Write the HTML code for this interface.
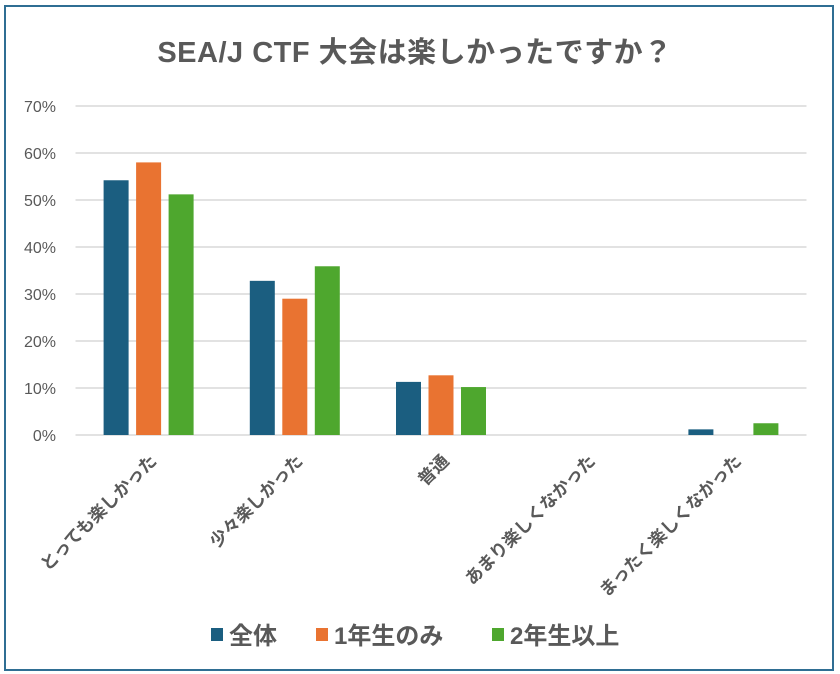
<!DOCTYPE html>
<html><head><meta charset="utf-8">
<style>
html,body{margin:0;padding:0;background:#fff;}
body{width:840px;height:674px;overflow:hidden;position:relative;font-family:"Liberation Sans","Noto Sans CJK JP",sans-serif;}
#frame{position:absolute;left:4px;top:5px;width:826px;height:662px;border:2px solid #2f6e93;}
svg text{font-family:"Liberation Sans","Noto Sans CJK JP",sans-serif;}
</style></head>
<body>
<div id="frame"></div>
<svg id="chart" width="840" height="674" style="position:absolute;left:0;top:0">
<text x="415" y="62" text-anchor="middle" font-size="29" font-weight="bold" fill="#595959" letter-spacing="0.5">SEA/J CTF 大会は楽しかったですか？</text>
<g id="grid"></g><g id="yticks"></g><g id="bars"></g><g id="xlabels"></g><g id="legend"></g>
</svg>
<script>
const categories=["とっても楽しかった","少々楽しかった","普通","あまり楽しくなかった","まったく楽しくなかった"];
const seriesNames=["全体","1年生のみ","2年生以上"];
const seriesAll=[54.2,32.8,11.3,0,1.2];
const seriesFirst=[58.0,29.0,12.7,0,0];
const seriesSecond=[51.2,35.9,10.2,0,2.5];
const yTicks=[0,10,20,30,40,50,60,70];
const colors=["#1b5e80","#e97331","#4ea72e"];
const NS="http://www.w3.org/2000/svg";
const L=75.5,R=806.5,Y0=435,Y70=106;
const y=v=>Y0-(v/70)*(Y0-Y70);
const bw=(R-L)/categories.length;
const x=i=>L+bw*i+bw/2;
function mk(tag,attrs,parent){const e=document.createElementNS(NS,tag);for(const k in attrs)e.setAttribute(k,attrs[k]);parent.appendChild(e);return e;}
const grid=document.getElementById('grid'),yt=document.getElementById('yticks');
yTicks.forEach(t=>{
  const l=mk('line',{x1:L,x2:R,y1:y(t),y2:y(t),stroke:'#d9d9d9','stroke-width':1.5},grid);
  
  
  const tx=mk('text',{x:56,y:y(t)+6,'text-anchor':'end','font-size':16,fill:'#595959'},yt);
  tx.textContent=t+'%';
  
  
});
const series=[seriesAll,seriesFirst,seriesSecond];
const barsG=document.getElementById('bars');
const w=25,gap=7.5;
series.forEach((s,si)=>{
  s.forEach((v,ci)=>{
    const bx=x(ci)+(si-1)*(w+gap)-w/2;
    const r=mk('rect',{x:bx,y:y(v),width:w,height:Y0-y(v),fill:colors[si]},barsG);
    
    
  });
});
const xl=document.getElementById('xlabels');
categories.forEach((c,ci)=>{
  const px=x(ci)+9,py=462;
  const t=mk('text',{x:px,y:py,'text-anchor':'end','font-size':17.5,'font-weight':'bold',fill:'#595959',transform:`rotate(-45 ${px} ${py})`},xl);
  t.textContent=c;
  
  
});
const lg=document.getElementById('legend');
const lx=[211,316,492];
seriesNames.forEach((n,i)=>{
  const r=mk('rect',{x:lx[i],y:628,width:12,height:13,fill:colors[i]},lg);
  
  
  const t=mk('text',{x:lx[i]+18,y:644,'font-size':24,'font-weight':'bold',fill:'#595959'},lg);
  t.textContent=n;
  
  
});
</script>
</body></html>
